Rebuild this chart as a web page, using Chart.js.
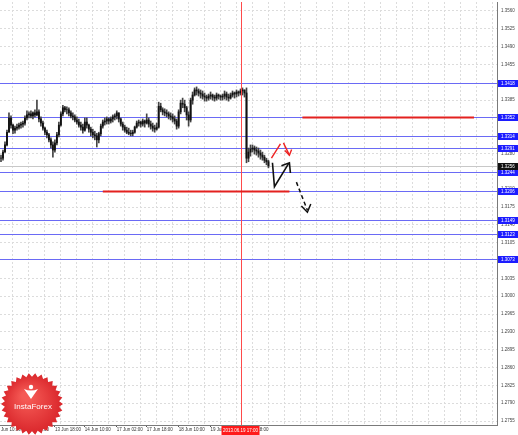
<!DOCTYPE html>
<html><head><meta charset="utf-8">
<script src="https://cdn.jsdelivr.net/npm/chart.js@4/dist/chart.umd.min.js"></script>
<style>html,body{margin:0;padding:0;background:#fff;overflow:hidden}#wrap{width:518px;height:435px}</style>
</head><body><div id="wrap"><canvas id="c" width="518" height="435"></canvas></div>
<script>
// ---- data (H1 bars) ----
const barHigh = [1.3277,1.3287,1.3303,1.3326,1.3360,1.3354,1.3338,1.3334,1.3338,1.3340,
1.3342,1.3344,1.3354,1.3364,1.3362,1.3364,1.3362,1.3366,1.3385,1.3366,
1.3352,1.3344,1.3332,1.3326,1.3320,1.3311,1.3303,1.3307,1.3322,1.3342,
1.3362,1.3375,1.3373,1.3372,1.3370,1.3364,1.3360,1.3356,1.3352,1.3348,
1.3342,1.3338,1.3350,1.3350,1.3338,1.3332,1.3328,1.3324,1.3320,1.3322,
1.3338,1.3346,1.3350,1.3352,1.3350,1.3352,1.3356,1.3358,1.3364,1.3360,
1.3350,1.3342,1.3336,1.3332,1.3330,1.3326,1.3326,1.3334,1.3344,1.3346,
1.3344,1.3348,1.3346,1.3358,1.3350,1.3344,1.3340,1.3336,1.3340,1.3381,
1.3379,1.3370,1.3368,1.3366,1.3362,1.3360,1.3358,1.3354,1.3348,1.3366,
1.3385,1.3389,1.3385,1.3373,1.3362,1.3389,1.3401,1.3409,1.3411,1.3407,
1.3405,1.3403,1.3399,1.3395,1.3397,1.3401,1.3397,1.3395,1.3399,1.3397,
1.3395,1.3397,1.3403,1.3401,1.3397,1.3399,1.3403,1.3401,1.3405,1.3403,
1.3407,1.3409,1.3405,1.3409,1.3291,1.3297,1.3297,1.3295,1.3293,1.3291,
1.3287,1.3283,1.3277,1.3271,1.3267];
const barLow = [1.3264,1.3267,1.3283,1.3295,1.3322,1.3330,1.3319,1.3320,1.3326,1.3328,
1.3330,1.3332,1.3336,1.3346,1.3350,1.3350,1.3348,1.3352,1.3354,1.3342,
1.3334,1.3326,1.3317,1.3311,1.3303,1.3291,1.3273,1.3283,1.3297,1.3313,
1.3334,1.3354,1.3362,1.3358,1.3354,1.3350,1.3346,1.3342,1.3338,1.3332,
1.3326,1.3320,1.3324,1.3330,1.3322,1.3315,1.3311,1.3307,1.3293,1.3301,
1.3315,1.3330,1.3336,1.3338,1.3338,1.3340,1.3342,1.3346,1.3348,1.3342,
1.3334,1.3326,1.3322,1.3319,1.3317,1.3315,1.3315,1.3320,1.3330,1.3334,
1.3332,1.3334,1.3332,1.3338,1.3332,1.3328,1.3324,1.3322,1.3326,1.3330,
1.3362,1.3356,1.3354,1.3352,1.3348,1.3346,1.3342,1.3338,1.3328,1.3330,
1.3358,1.3370,1.3362,1.3346,1.3334,1.3342,1.3377,1.3393,1.3395,1.3393,
1.3389,1.3387,1.3383,1.3383,1.3385,1.3387,1.3385,1.3383,1.3385,1.3387,
1.3385,1.3385,1.3387,1.3385,1.3383,1.3387,1.3391,1.3389,1.3391,1.3393,
1.3395,1.3395,1.3391,1.3262,1.3264,1.3275,1.3283,1.3279,1.3277,1.3273,
1.3269,1.3267,1.3262,1.3258,1.3252];
const barClose = [1.3271,1.3283,1.3297,1.3322,1.3350,1.3336,1.3326,1.3330,1.3332,1.3336,
1.3338,1.3340,1.3350,1.3356,1.3358,1.3354,1.3360,1.3356,1.3362,1.3348,
1.3340,1.3330,1.3322,1.3317,1.3307,1.3297,1.3287,1.3301,1.3317,1.3336,
1.3358,1.3370,1.3366,1.3366,1.3360,1.3354,1.3352,1.3346,1.3342,1.3336,
1.3332,1.3326,1.3342,1.3336,1.3328,1.3322,1.3317,1.3315,1.3307,1.3319,
1.3334,1.3342,1.3344,1.3348,1.3344,1.3348,1.3352,1.3354,1.3360,1.3348,
1.3338,1.3332,1.3326,1.3322,1.3320,1.3319,1.3322,1.3332,1.3340,1.3342,
1.3338,1.3344,1.3340,1.3346,1.3338,1.3334,1.3330,1.3328,1.3332,1.3373,
1.3366,1.3362,1.3360,1.3358,1.3354,1.3352,1.3348,1.3344,1.3334,1.3362,
1.3379,1.3377,1.3370,1.3356,1.3346,1.3385,1.3395,1.3405,1.3403,1.3399,
1.3397,1.3393,1.3391,1.3389,1.3393,1.3395,1.3391,1.3389,1.3395,1.3393,
1.3391,1.3393,1.3397,1.3391,1.3389,1.3395,1.3399,1.3397,1.3401,1.3399,
1.3403,1.3405,1.3399,1.3271,1.3283,1.3289,1.3291,1.3287,1.3285,1.3281,
1.3277,1.3273,1.3267,1.3264,1.3256];

const slotCount = 249;                        // hourly slots incl. empty future area
const timeTickIndex = [0, 11, 27, 42, 58, 73, 89, 105, 121];
const timeTickText = ['Jun 10:00','12 Jun 02:00','13 Jun 18:00','14 Jun 10:00','17 Jun 02:00','17 Jun 18:00','18 Jun 10:00','19 Jun 02:00','19 Jun 18:00'];
const cursorIndex = 120;
const cursorText = '2013.06.19 17:00';

const priceTicks = [1.3560,1.3525,1.3490,1.3455,1.3420,1.3385,1.3350,1.3315,1.3280,1.3245,1.3210,1.3175,
                    1.3140,1.3105,1.3070,1.3035,1.3000,1.2965,1.2930,1.2895,1.2860,1.2825,1.2790,1.2755];
const levelPrices = [1.3418,1.3352,1.3314,1.3291,1.3244,1.3206,1.3149,1.3123,1.3073];
const currentPrice = 1.3256;
const redSegPrice = [1.3352, 1.3206];
const redSegFrom  = [151, 51];
const redSegTo    = [237, 144.5];

// analyst arrows (bar index, price)
const redArrowX = [135.5, 140];       const redArrowY = [1.3271, 1.3299];
const redArrow2X = [141.5, 144.5];    const redArrow2Y = [1.3301, 1.3277];
const redHeadX = [142.2, 144.5, 145.6]; const redHeadY = [1.3286, 1.3277, 1.3288];
const blkArrowX = [136, 137, 144];    const blkArrowY = [1.3262, 1.3215, 1.3260];
const blkHeadX = [140.5, 144.5, 145]; const blkHeadY = [1.3256, 1.3262, 1.3242];
const dashArrowX = [148, 153.5];      const dashArrowY = [1.3224, 1.3169];
const dashHeadX = [150.5, 153.5, 155.2]; const dashHeadY = [1.3177, 1.3165, 1.3181];

// ---- build ----
const FONT = '"Liberation Sans", Arial, sans-serif';
const categories = Array.from({length: slotCount}, (_, i) => {
  const k = timeTickIndex.indexOf(i); return k >= 0 ? timeTickText[k] : '';
});
const wicks = barHigh.map((h, i) => [barLow[i], h]);
const bodies = barClose.map((c, i) => [i ? barClose[i - 1] : c, c]);
const pts = (xs, ys) => xs.map((x, i) => ({x, y: ys[i]}));
const lineDs = (xs, ys, color, w, dash) => ({
  type: 'line', xAxisID: 'xl', yAxisID: 'y', data: pts(xs, ys), borderColor: color,
  borderWidth: w, borderDash: dash || [], pointRadius: 0, fill: false, tension: 0, order: 0
});
const nearLevel = v => levelPrices.concat([currentPrice]).some(p => Math.abs(p - v) < 0.0005);

const overlay = {
  id: 'overlay',
  beforeDatasetsDraw(chart) {
    const {ctx, chartArea: a, scales: {y}} = chart;
    ctx.save();
    let py = Math.round(y.getPixelForValue(currentPrice)) + 0.5;
    ctx.strokeStyle = '#c8c8c8'; ctx.lineWidth = 1;
    ctx.beginPath(); ctx.moveTo(a.left, py); ctx.lineTo(a.right, py); ctx.stroke();
    ctx.strokeStyle = '#6a6af5';
    levelPrices.forEach(p => {
      const yy = Math.round(y.getPixelForValue(p)) + 0.5;
      ctx.beginPath(); ctx.moveTo(a.left, yy); ctx.lineTo(a.right, yy); ctx.stroke();
    });
    ctx.restore();
  },
  afterDatasetsDraw(chart) {
    const {ctx, chartArea: a, scales: {y, x, xl}} = chart;
    ctx.save();
    const cx = Math.round(x.getPixelForValue(cursorIndex)) + 0.5;
    ctx.strokeStyle = '#ff4a4a'; ctx.lineWidth = 1;
    ctx.beginPath(); ctx.moveTo(cx, a.top); ctx.lineTo(cx, a.bottom); ctx.stroke();
    ctx.strokeStyle = '#e3211f'; ctx.lineWidth = 2;
    redSegPrice.forEach((p, i) => {
      const yy = Math.round(y.getPixelForValue(p)) + 0.5;
      ctx.beginPath(); ctx.moveTo(xl.getPixelForValue(redSegFrom[i]), yy);
      ctx.lineTo(xl.getPixelForValue(redSegTo[i]), yy); ctx.stroke();
    });
    ctx.restore();
  },
  afterDraw(chart) {
    const {ctx, chartArea: a, scales: {y, x}} = chart;
    ctx.save();
    ctx.font = '4.5px ' + FONT;
    ctx.textBaseline = 'middle';
    const box = (p, bg) => {
      const yy = Math.round(y.getPixelForValue(p));
      ctx.fillStyle = bg; ctx.fillRect(a.right + 1, yy - 3, 20, 7);
      ctx.fillStyle = '#fff'; ctx.textAlign = 'left';
      ctx.fillText(p.toFixed(4), a.right + 4, yy + 0.5);
    };
    levelPrices.forEach(p => box(p, '#1c1cff'));
    box(currentPrice, '#111');
    const cx = x.getPixelForValue(cursorIndex);
    ctx.fillStyle = '#ff1a1a'; ctx.fillRect(cx - 19, a.bottom + 1, 38, 9);
    ctx.fillStyle = '#fff'; ctx.textAlign = 'center';
    ctx.fillText(cursorText, cx, a.bottom + 5.5);
    // InstaForex badge
    const bx = 32, by = 404, r = 31, n = 30;
    ctx.beginPath();
    for (let k = 0; k <= n * 2; k++) {
      const ang = k / (n * 2) * Math.PI * 2;
      const rr = k % 2 ? r * 0.88 : r;
      const px = bx + rr * Math.cos(ang), py = by + rr * Math.sin(ang);
      k ? ctx.lineTo(px, py) : ctx.moveTo(px, py);
    }
    ctx.closePath();
    const g = ctx.createRadialGradient(bx - 6, by - 8, 4, bx, by, r);
    g.addColorStop(0, '#f55a55'); g.addColorStop(1, '#d9252a');
    ctx.fillStyle = g; ctx.fill();
    ctx.fillStyle = '#fff';
    ctx.beginPath(); ctx.arc(bx - 1, by - 17, 2.2, 0, Math.PI * 2); ctx.fill();
    ctx.beginPath();
    ctx.moveTo(bx - 8, by - 15); ctx.quadraticCurveTo(bx - 1, by - 12, bx + 6, by - 15);
    ctx.quadraticCurveTo(bx + 1, by - 8, bx - 1, by - 5);
    ctx.quadraticCurveTo(bx - 3, by - 8, bx - 8, by - 15); ctx.fill();
    ctx.font = '8px ' + FONT; ctx.textAlign = 'center';
    ctx.fillText('InstaForex', bx + 1, by + 3);
    ctx.restore();
  }
};

new Chart(document.getElementById('c'), {
  type: 'bar',
  data: {
    labels: categories,
    datasets: [
      lineDs(redArrowX, redArrowY, '#ee2222', 1.4),
      lineDs(redArrow2X, redArrow2Y, '#ee2222', 1.4),
      lineDs(redHeadX, redHeadY, '#ee2222', 1.4),
      lineDs(blkArrowX, blkArrowY, '#111', 1.6),
      lineDs(blkHeadX, blkHeadY, '#111', 1.6),
      lineDs(dashArrowX, dashArrowY, '#111', 1.5, [4, 3]),
      lineDs(dashHeadX, dashHeadY, '#111', 1.5),
      {type: 'bar', data: wicks, backgroundColor: '#444', barThickness: 1, grouped: false, xAxisID: 'x', yAxisID: 'y', order: 2},
      {type: 'bar', data: bodies, backgroundColor: '#111', barThickness: 1.2, grouped: false, xAxisID: 'x', yAxisID: 'y', order: 1}
    ]
  },
  options: {
    responsive: false, animation: false, devicePixelRatio: 1,
    layout: {padding: {top: 2, left: 0, right: 0, bottom: 0}},
    plugins: {legend: {display: false}, tooltip: {enabled: false}},
    scales: {
      x: {
        type: 'category', offset: true,
        grid: {
          offset: false, lineWidth: 1, tickLength: 2,
          color: c => (c.index % 8 === 6) ? '#dcdcdc' : 'rgba(0,0,0,0)',
          tickColor: c => timeTickIndex.includes(c.index) && c.index > 0 ? '#555' : 'rgba(0,0,0,0)'
        },
        border: {display: true, color: '#7a7a7a', dash: [2, 2]},
        ticks: {autoSkip: false, maxRotation: 0, minRotation: 0, align: 'start', padding: 0,
                color: '#333', font: {size: 4.5, family: FONT}},
        afterFit: s => { s.height = 10; s.paddingLeft = 0; s.paddingRight = 0; }
      },
      xl: {type: 'linear', display: false, offset: false, min: -0.5, max: slotCount - 0.5,
           grid: {offset: false}},
      y: {
        type: 'linear', position: 'right', min: 1.274715, max: 1.357767,
        afterBuildTicks: s => { s.ticks = priceTicks.map(v => ({value: v})); },
        grid: {color: c => c.tick && nearLevel(c.tick.value) ? 'rgba(0,0,0,0)' : '#dcdcdc', lineWidth: 1, drawTicks: false},
        border: {display: true, color: '#7a7a7a', dash: [2, 2]},
        ticks: {padding: 4, color: '#444', font: {size: 4.5, family: FONT}, callback: v => v.toFixed(4)},
        afterFit: s => { s.width = 21; s.paddingTop = 0; s.paddingBottom = 0; }
      }
    }
  },
  plugins: [overlay]
});
</script>
</body></html>
